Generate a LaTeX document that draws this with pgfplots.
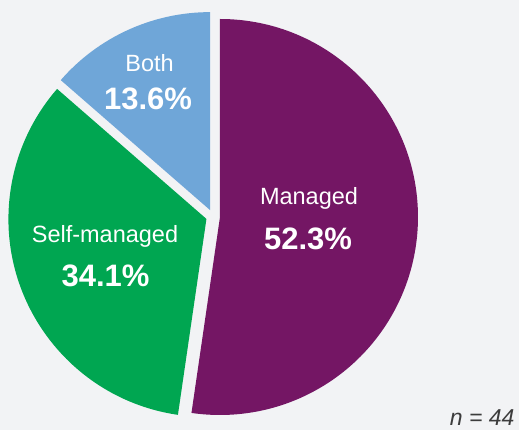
\documentclass[border=0pt]{standalone}
\usepackage{fontspec}
\setmainfont{Liberation Sans}
\usepackage{pgfplots}
\pgfplotsset{compat=1.18}
\usetikzlibrary{calc}
\definecolor{bg}{RGB}{242,243,245}
\definecolor{managed}{RGB}{116,22,100}
\definecolor{selfm}{RGB}{0,166,81}
\definecolor{both}{RGB}{111,166,216}
\definecolor{ntext}{RGB}{60,60,60}
% slice values (percent)
\def\vManaged{52.3}
\def\vSelf{34.1}
\def\vBoth{13.6}
\begin{document}
\begin{tikzpicture}
\begin{axis}[
  scale only axis, width=519pt, height=430pt,
  xmin=0, xmax=519, ymin=0, ymax=430,
  hide axis, clip=false,
]
\fill[bg] (axis cs:-20,-20) rectangle (axis cs:539,450);
\pgfmathsetmacro{\aA}{90}
\pgfmathsetmacro{\aB}{90-3.6*\vManaged}
\pgfmathsetmacro{\aC}{\aB-3.6*\vSelf}
\pgfmathsetmacro{\aD}{\aC-3.6*\vBoth}
\pgfmathsetmacro{\mA}{(\aA+\aB)/2}
\pgfmathsetmacro{\mB}{(\aB+\aC)/2}
\pgfmathsetmacro{\mC}{(\aC+\aD)/2}
\coordinate (O) at (axis cs:213,213.5);
\fill[managed] ($(O)+(\mA:7pt)$) -- ++(\aA:198pt) arc[start angle=\aA, end angle=\aB, radius=198pt] -- cycle;
\fill[selfm] ($(O)+(\mB:7pt)$) -- ++(\aB:198pt) arc[start angle=\aB, end angle=\aC, radius=198pt] -- cycle;
\fill[both] ($(O)+(\mC:7pt)$) -- ++(\aC:198pt) arc[start angle=\aC, end angle=\aD, radius=198pt] -- cycle;
\node[white, font=\fontsize{23.5}{27}\selectfont] at (axis cs:309,232) {Managed};
\node[white, font=\fontsize{31}{35}\selectfont\bfseries] at (axis cs:308,191) {52.3\%};
\node[white, font=\fontsize{23.5}{27}\selectfont] at (axis cs:105,194) {Self-managed};
\node[white, font=\fontsize{31}{35}\selectfont\bfseries] at (axis cs:105.5,154) {34.1\%};
\node[white, font=\fontsize{23.5}{27}\selectfont] at (axis cs:149.5,367) {Both};
\node[white, font=\fontsize{31}{35}\selectfont\bfseries] at (axis cs:148,331) {13.6\%};
\node[ntext, font=\fontsize{23}{27}\selectfont\itshape, anchor=east] at (axis cs:518,12) {$\mathit{n}$ = 44};
\end{axis}
\pgfresetboundingbox
\path[use as bounding box] (current axis.south west) rectangle (current axis.north east);
\end{tikzpicture}
\end{document}
